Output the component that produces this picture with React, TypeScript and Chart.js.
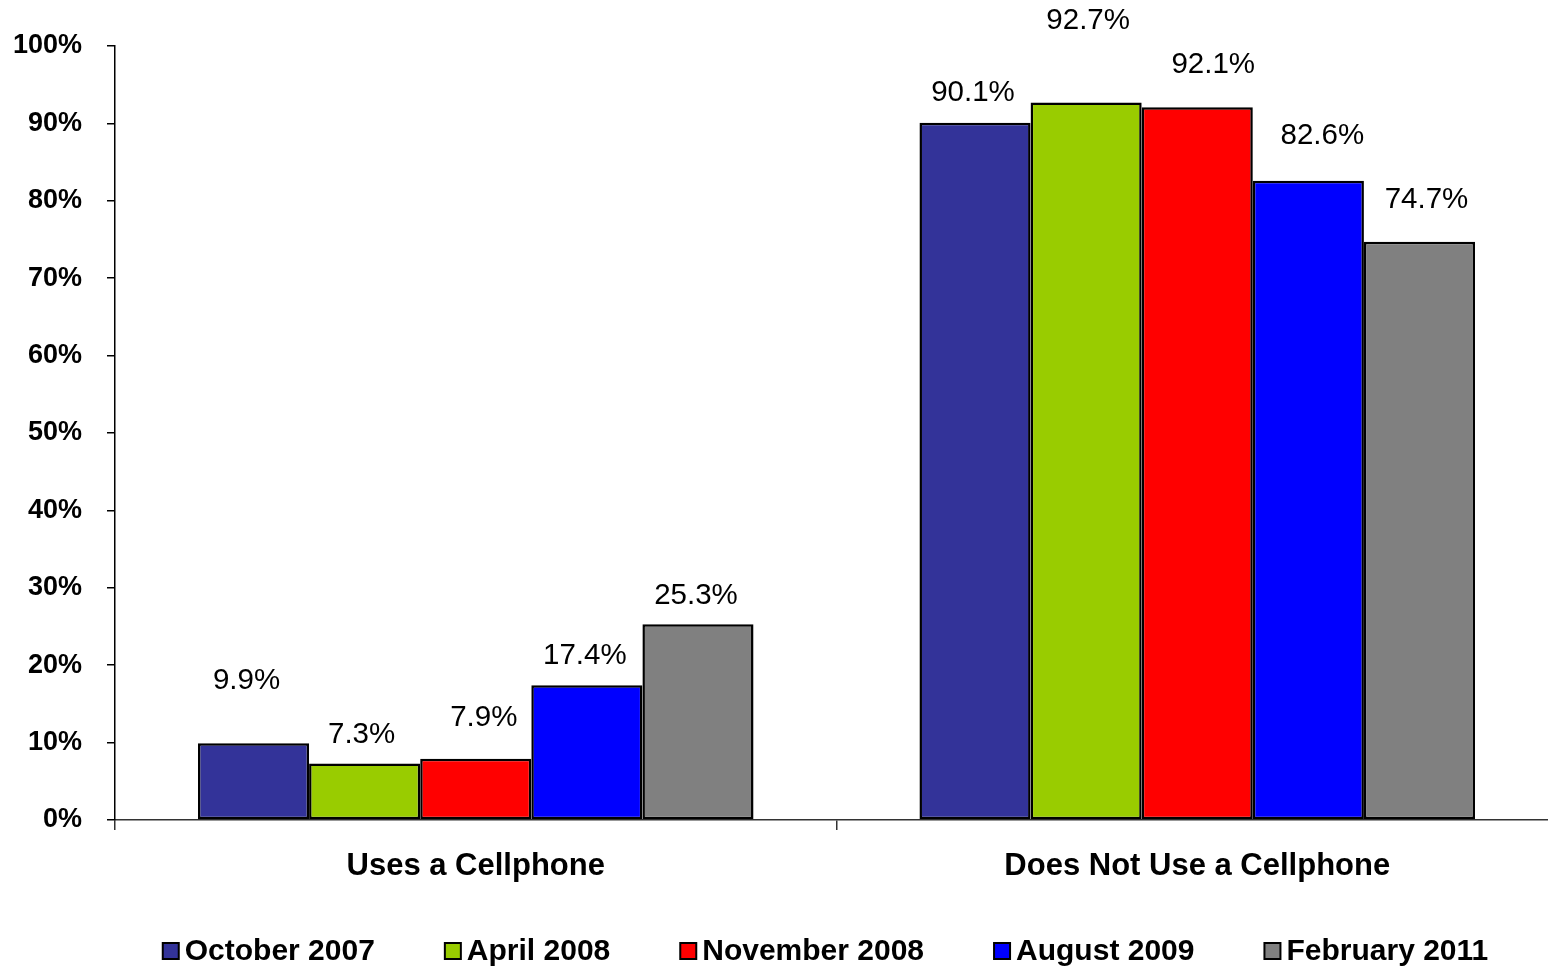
import React, { useEffect, useRef } from "react";
import { Chart, registerables } from "chart.js";

Chart.register(...registerables);

const categories = ["Uses a Cellphone", "Does Not Use a Cellphone"];
const seriesNames = ["October 2007", "April 2008", "November 2008", "August 2009", "February 2011"];
const oct2007 = [9.9, 90.1];
const apr2008 = [7.3, 92.7];
const nov2008 = [7.9, 92.1];
const aug2009 = [17.4, 82.6];
const feb2011 = [25.3, 74.7];
const seriesColors = ["#333399", "#99CC00", "#FF0000", "#0000FF", "#808080"];
// label nudges [dx, dy above bar top] per series per category
const labelNudge = [
  [[-7, 63], [-2, 30]],
  [[-3, 29], [2, 82]],
  [[8, 41], [16, 42]],
  [[-2, 29], [14, 45]],
  [[-2, 28], [7, 42]],
];

const FONT = "'Liberation Sans', Arial, sans-serif";

const dataLabelPlugin = {
  id: "dataLabels",
  afterDatasetsDraw(chart: any) {
    const ctx = chart.ctx;
    ctx.save();
    ctx.font = `normal 29.5px ${FONT}`;
    ctx.fillStyle = "#000";
    ctx.textAlign = "center";
    ctx.textBaseline = "middle";
    chart.data.datasets.forEach((ds: any, i: number) => {
      const meta = chart.getDatasetMeta(i);
      meta.data.forEach((bar: any, j: number) => {
        const v = ds.data[j];
        const [dx, dy] = labelNudge[i][j];
        ctx.fillText(v.toFixed(1) + "%", bar.x + dx, bar.y - dy);
      });
    });
    ctx.restore();
  },
};

const legendPlugin = {
  id: "customLegend",
  afterDraw(chart: any) {
    const ctx = chart.ctx;
    ctx.save();
    ctx.font = `bold 30px ${FONT}`;
    const box = 16;
    const gap = 6;
    const spacing = 70;
    const widths = chart.data.datasets.map((d: any) => ctx.measureText(d.label).width);
    const total =
      widths.reduce((a: number, b: number) => a + b, 0) +
      widths.length * (box + gap) +
      (widths.length - 1) * spacing;
    const centerX = (chart.chartArea.left + chart.chartArea.right) / 2 - 11;
    const cy = 951;
    let x = centerX - total / 2;
    ctx.textBaseline = "middle";
    ctx.textAlign = "left";
    chart.data.datasets.forEach((d: any, i: number) => {
      ctx.fillStyle = d.backgroundColor;
      ctx.fillRect(x, cy - box / 2, box, box);
      ctx.lineWidth = 2;
      ctx.strokeStyle = "#000";
      ctx.strokeRect(x, cy - box / 2, box, box);
      ctx.fillStyle = "#000";
      ctx.fillText(d.label, x + box + gap, cy + 1);
      x += box + gap + widths[i] + spacing;
    });
    ctx.restore();
  },
};

export default function App() {
  const ref = useRef<HTMLCanvasElement>(null);
  useEffect(() => {
    const allSeries = [oct2007, apr2008, nov2008, aug2009, feb2011];
    const chart = new Chart(ref.current!, {
      type: "bar",
      data: {
        labels: categories,
        datasets: allSeries.map((s, i) => ({
          label: seriesNames[i],
          data: s,
          backgroundColor: seriesColors[i],
          borderColor: "#000",
          borderWidth: 2.5,
          borderSkipped: false,
          categoryPercentage: 0.77,
          barPercentage: 1,
        })),
      },
      options: {
        responsive: false,
        animation: false,
        devicePixelRatio: 1,
        layout: { padding: { top: 46, right: 0, bottom: 60, left: 0 } },
        plugins: {
          legend: { display: false },
          tooltip: { enabled: false },
        },
        scales: {
          x: {
            offset: true,
            grid: {
              offset: true,
              drawOnChartArea: false,
              drawTicks: true,
              tickLength: 10,
              color: "#333",
              lineWidth: 1.5,
            },
            border: { display: true, color: "#333", width: 1.5 },
            ticks: {
              color: "#000",
              font: { family: FONT, size: 31, weight: "bold" },
              padding: 18,
            },
            afterFit: (scale: any) => {
              scale.height = 969 - 46 - 60 - 774;
            },
          },
          y: {
            min: 0,
            max: 100,
            ticks: {
              stepSize: 10,
              color: "#000",
              font: { family: FONT, size: 27, weight: "bold" },
              padding: 25,
              callback: (v: any) => v + "%",
            },
            grid: {
              drawOnChartArea: false,
              drawTicks: true,
              tickLength: 8,
              color: "#000",
              lineWidth: 1.5,
            },
            border: { display: true, color: "#000", width: 1.5 },
            afterFit: (scale: any) => {
              scale.width = 115;
            },
          },
        },
      },
      plugins: [dataLabelPlugin, legendPlugin],
    });
    return () => chart.destroy();
  }, []);
  return (
    <div style={{ position: "absolute", left: 0, top: 0, width: 1548, height: 969, overflow: "hidden", background: "#fff" }}>
      <canvas ref={ref} width={1558} height={969} style={{ display: "block" }} />
    </div>
  );
}
